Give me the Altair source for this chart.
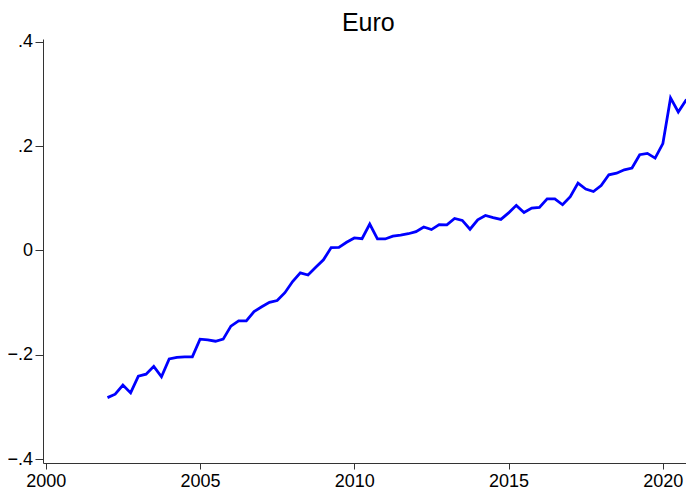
import altair as alt
import pandas as pd

years = list(range(2002, 2022))
values = [
    -0.282, -0.2755, -0.258, -0.273,
    -0.241, -0.237, -0.222, -0.242,
    -0.208, -0.205, -0.204, -0.204,
    -0.170, -0.1715, -0.174, -0.170,
    -0.145, -0.135, -0.135, -0.117,
    -0.108, -0.0995, -0.096, -0.081,
    -0.0595, -0.043, -0.047, -0.032,
    -0.018, 0.0056, 0.006, 0.0156,
    0.024, 0.0225, 0.0507, 0.022,
    0.022, 0.0275, 0.0295, 0.032,
    0.036, 0.045, 0.040, 0.0495,
    0.049, 0.0614, 0.0576, 0.0407,
    0.0588, 0.067, 0.063, 0.0595,
    0.072, 0.0864, 0.0727, 0.0813,
    0.0826, 0.099, 0.099, 0.0876,
    0.103, 0.129, 0.1177, 0.113,
    0.1245, 0.145, 0.148, 0.1546,
    0.158, 0.1834, 0.186, 0.177,
    0.2047, 0.2923, 0.2654, 0.288,
    0.292,
]
periods = [y + q / 4 for y in years for q in range(4)][: len(values)]

x_ticks = [2000, 2005, 2010, 2015, 2020]
y_ticks = [-0.4, -0.2, 0, 0.2, 0.4]
title_text = ["Euro"]

df = pd.DataFrame({"period": periods, "value": values})
title_df = pd.DataFrame({"t": title_text})

FONT = "Liberation Sans"
W = 650.7
H = 424

line = (
    alt.Chart(df)
    .mark_line(color="#0000FF", strokeWidth=2.8, clip=True)
    .encode(
        x=alt.X(
            "period:Q",
            scale=alt.Scale(domain=[1999.91, 2021], nice=False, zero=False),
            axis=alt.Axis(
                values=x_ticks,
                format="d",
                title=None,
                grid=False,
                tickSize=6,
                labelPadding=3,
                labelFontSize=18,
                labelFont=FONT,
                labelColor="black",
                domainColor="#333333",
                tickColor="#333333",
                labelFlush=False,
            ),
        ),
        y=alt.Y(
            "value:Q",
            scale=alt.Scale(domain=[-0.4073, 0.4052], nice=False, zero=False),
            axis=alt.Axis(
                values=y_ticks,
                labelExpr="datum.value == 0 ? '0' : replace(format(datum.value, '.1f'), '0.', '.')",
                title=None,
                grid=False,
                tickSize=8,
                labelPadding=2.5,
                labelFontSize=18,
                labelFont=FONT,
                labelColor="black",
                domainColor="#333333",
                tickColor="#333333",
                labelFlush=False,
            ),
        ),
    )
)

title = (
    alt.Chart(title_df)
    .mark_text(
        font=FONT,
        fontSize=25,
        color="black",
        align="center",
        baseline="alphabetic",
    )
    .encode(text="t:N", x=alt.value(325.3), y=alt.value(-8.5))
)

chart = (
    alt.layer(line, title)
    .properties(
        width=W,
        height=H,
        autosize=alt.AutoSizeParams(type="none"),
        padding={"left": 35, "top": 31, "right": -7.7, "bottom": 27},
        view=alt.ViewBackground(strokeWidth=0, strokeOpacity=0, fill="white"),
    )
    .configure_view(strokeWidth=0, strokeOpacity=0)
    .configure(background="white")
)

chart.save("out.html", embed_options={"renderer": "svg", "actions": False})
